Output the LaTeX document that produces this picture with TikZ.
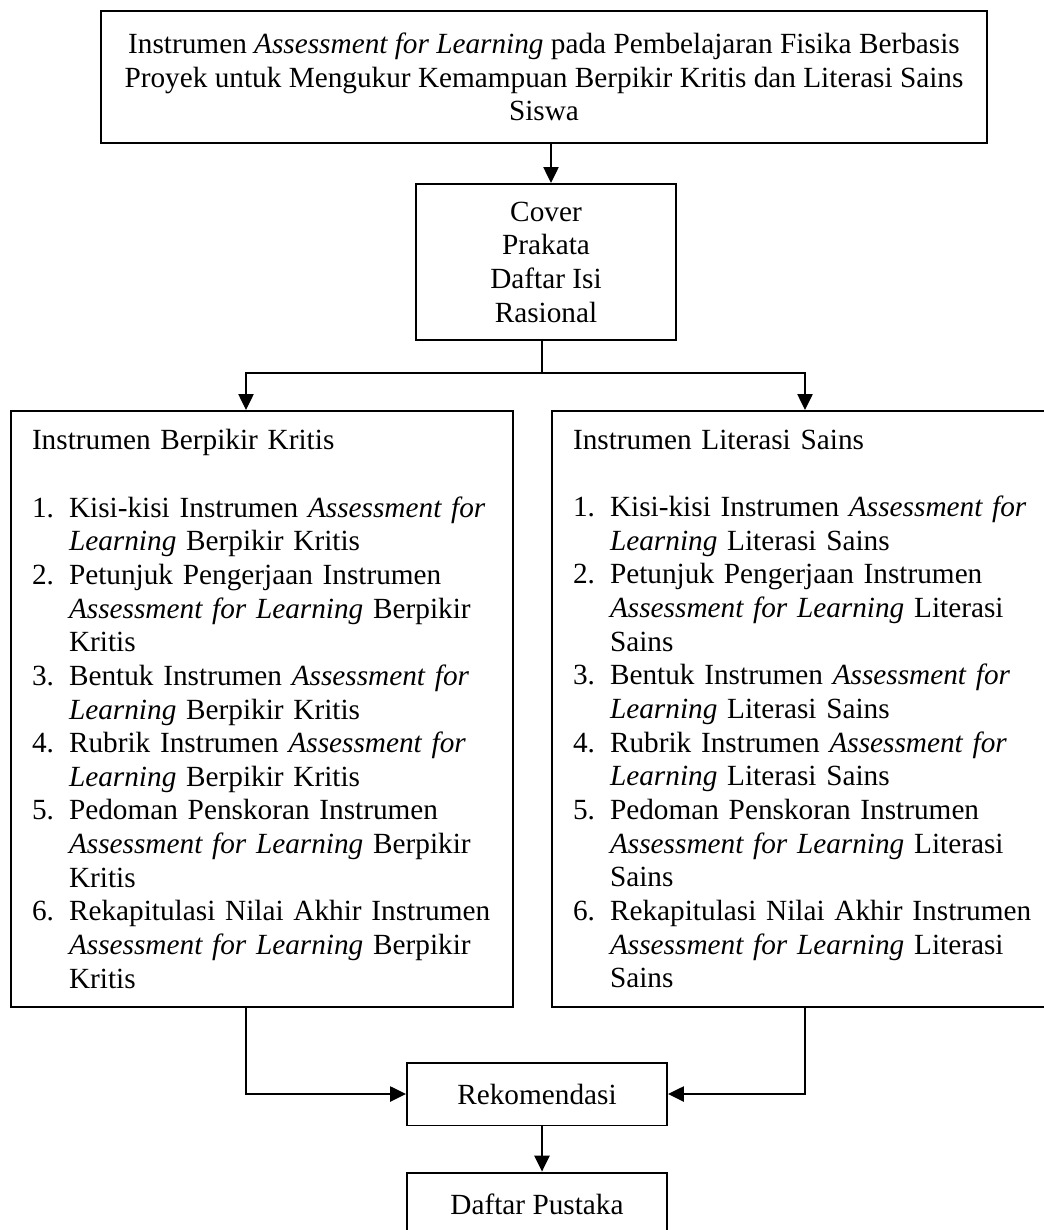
\documentclass[tikz,border=0pt]{standalone}
\usepackage{fontspec}
\setmainfont{Liberation Serif}
\usetikzlibrary{arrows.meta}

\newcommand{\itm}[1]{\makebox[15.2pt][l]{#1}}
\newcommand{\cnt}{\hspace*{15.2pt}}
\newcommand{\AfL}{\textit{Assessment for Learning}}

\begin{document}
\begin{tikzpicture}[x=0.41pt, y=-0.41pt,
    box/.style={draw, line width=0.8pt, rectangle, inner sep=0pt,
      font=\fontsize{12}{13.8}\selectfont},
    listbox/.style={box, align=left, text width=188.6pt, inner xsep=8.6pt,
      minimum height=244.4pt},
    line/.style={line width=0.7pt},
    arr/.style={line, -{Triangle[length=6.5pt,width=6.2pt]}}]
  \useasboundingbox (0,0) rectangle (1043,1230);
  % draw the boxes
  \node[box, align=center, minimum width=363.3pt, minimum height=54.1pt] (title) at (544,77)
    {Instrumen \AfL{} pada Pembelajaran Fisika Berbasis\\
     Proyek untuk Mengukur Kemampuan Berpikir Kritis dan Literasi Sains\\
     Siswa};
  \node[box, align=center, minimum width=106.6pt, minimum height=64pt] (cover) at (546,262)
    {Cover\\Prakata\\Daftar Isi\\Rasional};
  \node[listbox] (kritis) at (262,709)
    {Instrumen Berpikir Kritis\\[13.8pt]
     \itm{1.}Kisi-kisi Instrumen \textit{Assessment for}\\
     \cnt\textit{Learning} Berpikir Kritis\\
     \itm{2.}Petunjuk Pengerjaan Instrumen\\
     \cnt\AfL{} Berpikir\\
     \cnt Kritis\\
     \itm{3.}Bentuk Instrumen \textit{Assessment for}\\
     \cnt\textit{Learning} Berpikir Kritis\\
     \itm{4.}Rubrik Instrumen \textit{Assessment for}\\
     \cnt\textit{Learning} Berpikir Kritis\\
     \itm{5.}Pedoman Penskoran Instrumen\\
     \cnt\AfL{} Berpikir\\
     \cnt Kritis\\
     \itm{6.}Rekapitulasi Nilai Akhir Instrumen\\
     \cnt\AfL{} Berpikir\\
     \cnt Kritis};
  \node[listbox] (literasi) at (803,709)
    {Instrumen Literasi Sains\\[13.8pt]
     \itm{1.}Kisi-kisi Instrumen \textit{Assessment for}\\
     \cnt\textit{Learning} Literasi Sains\\
     \itm{2.}Petunjuk Pengerjaan Instrumen\\
     \cnt\AfL{} Literasi\\
     \cnt Sains\\
     \itm{3.}Bentuk Instrumen \textit{Assessment for}\\
     \cnt\textit{Learning} Literasi Sains\\
     \itm{4.}Rubrik Instrumen \textit{Assessment for}\\
     \cnt\textit{Learning} Literasi Sains\\
     \itm{5.}Pedoman Penskoran Instrumen\\
     \cnt\AfL{} Literasi\\
     \cnt Sains\\
     \itm{6.}Rekapitulasi Nilai Akhir Instrumen\\
     \cnt\AfL{} Literasi\\
     \cnt Sains};
  \node[box, minimum width=106.6pt, minimum height=25.8pt] (rekom) at (537,1094) {Rekomendasi};
  \node[box, minimum width=106.6pt, minimum height=25.8pt] (pustaka) at (537,1204) {Daftar Pustaka};
  % connector positions
  \coordinate (xa) at (551,0);
  \coordinate (xc) at (542,0);
  \coordinate (kl) at (246,0);
  \coordinate (kr) at (805,0);
  \coordinate (fork) at (542,373);
  % draw the connectors
  \draw[arr] (title.south -| xa) -- (cover.north -| xa);
  \draw[line] (cover.south -| fork) -- (fork);
  \draw[arr] (fork) -| (kl |- kritis.north);
  \draw[arr] (fork) -| (kr |- literasi.north);
  \draw[arr] (kl |- kritis.south) |- (rekom.west);
  \draw[arr] (kr |- literasi.south) |- (rekom.east);
  \draw[arr] (rekom.south -| xc) -- (pustaka.north -| xc);
\end{tikzpicture}
\end{document}
